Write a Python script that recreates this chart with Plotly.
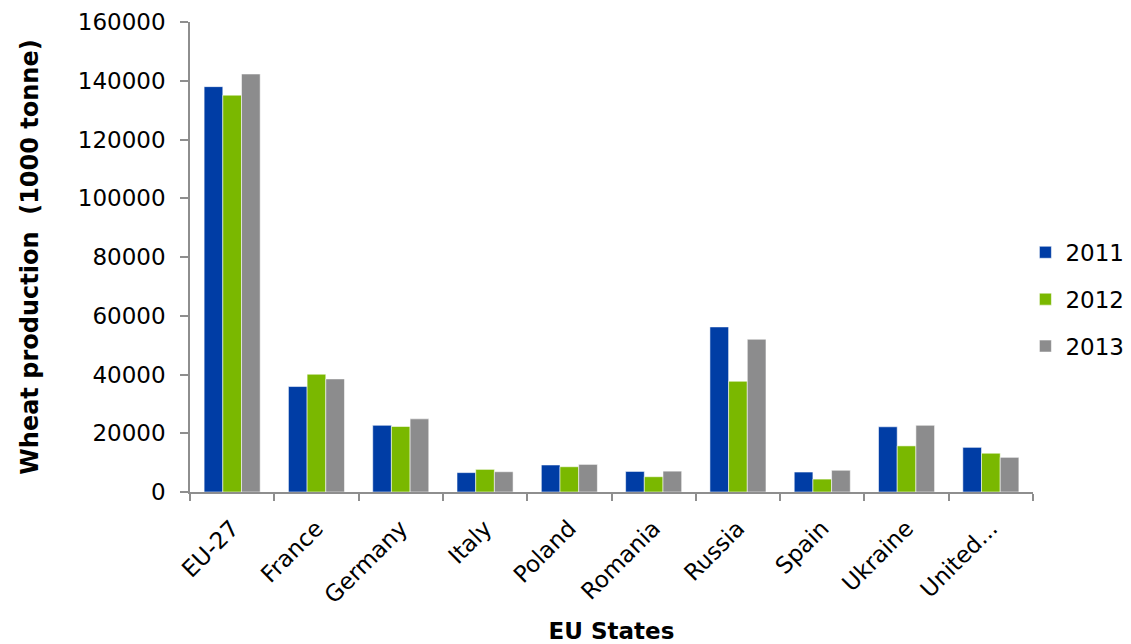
import plotly.graph_objects as go

# Wheat production by country, thousand tonnes
countries = ["EU-27", "France", "Germany", "Italy", "Poland", "Romania",
             "Russia", "Spain", "Ukraine", "United..."]
prod_2011 = [138000, 35900, 22700, 6600, 9200, 7000, 56200, 6800, 22200, 15200]
prod_2012 = [135100, 40100, 22300, 7700, 8600, 5200, 37700, 4400, 15700, 13200]
prod_2013 = [142300, 38500, 24900, 6900, 9400, 7100, 52000, 7400, 22700, 11800]
y_ticks = [0, 20000, 40000, 60000, 80000, 100000, 120000, 140000, 160000]

series = [
    ("2011", prod_2011, "#003DA5"),
    ("2012", prod_2012, "#7AB800"),
    ("2013", prod_2013, "#8C8C8D"),
]

fig = go.Figure()
for i, (name, vals, color) in enumerate(series):
    fig.add_trace(go.Bar(
        name=name, x=countries, y=vals, legendgroup=name,
        marker=dict(color=color, line=dict(color="rgba(255,255,255,0.55)", width=1)),
    ))

font_family = "DejaVu Sans, Verdana, sans-serif"
axis_grey = "#8E8E8E"

fig.update_layout(
    width=1131, height=644,
    margin=dict(l=190, r=98, t=22, b=152, autoexpand=False),
    paper_bgcolor="white", plot_bgcolor="white",
    barmode="group", bargap=0.335, bargroupgap=0,
    font=dict(family=font_family, color="#000000", size=22),
    showlegend=True,
    legend=dict(
        x=0.991, xanchor="left", y=0.41, yanchor="middle",
        font=dict(size=23, color="#000000"),
        tracegroupgap=14, bgcolor="rgba(0,0,0,0)",
        itemclick=False,
    ),
)

fig.update_xaxes(
    automargin=False,
    showline=True, linecolor=axis_grey, linewidth=1.5,
    ticks="outside", tickson="boundaries", ticklen=7, tickwidth=1.5, tickcolor=axis_grey,
    ticklabelstandoff=12,
    tickangle=-45, tickfont=dict(size=23, family=font_family),
    showgrid=False, zeroline=False,
    title=dict(text="<b>EU States</b>", font=dict(size=23, family=font_family), standoff=20),
)

fig.update_yaxes(
    automargin=False,
    range=[0, 160000], tickvals=y_ticks, ticktext=[str(v) for v in y_ticks],
    showline=True, linecolor=axis_grey, linewidth=1.5,
    ticks="outside", ticklen=8, tickwidth=1.5, tickcolor=axis_grey,
    ticklabelstandoff=10,
    tickfont=dict(size=23, family=font_family),
    showgrid=False, zeroline=False,
    title=dict(text="<b>Wheat production  (1000 tonne)</b>",
               font=dict(size=24, family=font_family), standoff=32),
)

fig.write_html("out.html")
